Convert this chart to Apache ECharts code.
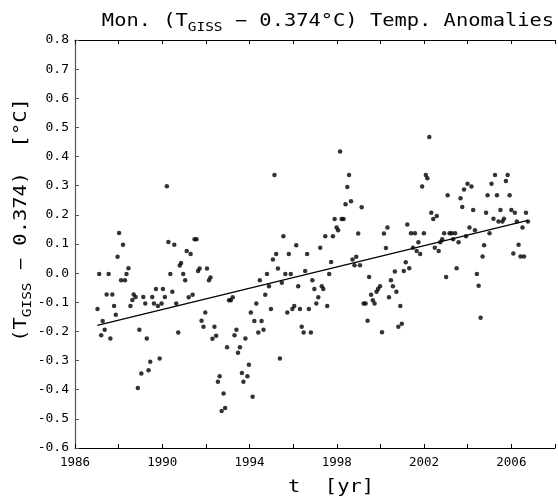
<!DOCTYPE html>
<html>
<head>
<meta charset="utf-8">
<script src="https://cdn.jsdelivr.net/npm/echarts@6/dist/echarts.min.js"></script>
<style>html,body{margin:0;padding:0;background:#fff}#c{width:558px;height:498px}</style>
</head>
<body>
<div id="c"></div>
<script>
const years = [
1987.03,1987.11,1987.20,1987.27,1987.36,1987.45,1987.54,1987.62,1987.71,1987.79,1987.87,1987.95,
1988.02,1988.11,1988.20,1988.29,1988.36,1988.45,1988.54,1988.63,1988.69,1988.78,1988.88,1988.95,
1989.04,1989.13,1989.22,1989.29,1989.37,1989.45,1989.54,1989.62,1989.71,1989.80,1989.88,1989.97,
1990.03,1990.12,1990.21,1990.28,1990.37,
1990.46,1990.55,1990.64,1990.73,1990.80,1990.86,1990.96,
1991.05,1991.12,1991.21,1991.30,1991.39,1991.48,1991.57,1991.64,1991.71,1991.80,1991.89,1991.97,
1992.05,1992.14,1992.21,1992.30,1992.39,1992.47,1992.55,1992.63,1992.72,1992.81,1992.88,1992.97,
1993.06,1993.14,1993.23,1993.31,1993.40,1993.47,1993.56,1993.65,1993.72,1993.81,1993.90,
1993.97,1994.06,1994.14,1994.22,1994.31,1994.40,1994.47,1994.55,1994.64,1994.72,1994.80,1994.89,1994.98,
1995.07,1995.14,1995.22,1995.30,1995.39,1995.48,1995.55,1995.64,1995.73,1995.80,1995.89,1995.96,
1996.05,1996.14,1996.23,1996.31,1996.39,1996.48,1996.55,1996.64,1996.72,1996.81,1996.88,1996.97,
1997.06,1997.15,1997.24,1997.31,1997.38,1997.47,
1997.56,1997.65,1997.74,1997.82,1997.90,1997.99,
1998.06,1998.15,1998.22,1998.31,1998.40,1998.48,1998.56,1998.65,1998.72,1998.81,1998.89,1998.98,
1999.06,1999.14,1999.23,1999.32,1999.41,1999.48,1999.57,1999.65,1999.73,1999.82,1999.89,1999.98,
2000.07,2000.16,2000.25,2000.32,2000.39,2000.48,2000.57,2000.66,2000.73,2000.82,2000.91,2000.98,
2001.07,2001.16,2001.23,2001.32,2001.40,2001.49,2001.58,2001.66,2001.74,2001.82,2001.91,2001.99,
2002.08,2002.15,2002.24,2002.33,2002.42,2002.49,2002.58,2002.67,2002.74,2002.83,2002.92,
2003.01,2003.08,2003.17,2003.26,2003.33,2003.42,2003.49,2003.58,2003.67,2003.75,2003.83,2003.92,2003.99,
2004.08,2004.17,2004.25,2004.33,
2004.42,2004.50,2004.59,2004.68,2004.75,2004.84,2004.91,
2005.00,2005.09,2005.18,2005.25,2005.34,2005.41,2005.50,2005.59,2005.66,2005.75,2005.83,2005.92,
2006.00,2006.09,2006.16,2006.25,2006.33,2006.42,2006.51,2006.58,2006.67,2006.76
];
const anomalies = [
-0.123,-0.003,-0.213,-0.164,-0.194,-0.073,-0.003,-0.224,-0.073,-0.113,-0.143,0.056,
0.138,-0.024,0.097,-0.024,-0.003,0.017,-0.113,-0.092,-0.073,-0.082,-0.394,-0.194,
-0.344,-0.082,-0.104,-0.224,-0.333,-0.304,-0.082,-0.104,-0.054,-0.113,-0.293,-0.104,
-0.054,-0.082,0.298,0.107,-0.003,
-0.064,0.097,-0.104,-0.204,0.026,0.035,-0.003,
-0.024,0.076,-0.083,0.066,-0.074,0.116,0.116,0.007,0.016,-0.163,-0.184,-0.135,
0.016,-0.024,-0.015,-0.225,-0.184,-0.215,-0.373,-0.354,-0.473,-0.413,-0.463,-0.254,
-0.093,-0.093,-0.083,-0.213,-0.194,-0.273,-0.254,-0.343,-0.373,-0.224,-0.354,
-0.314,-0.135,-0.424,-0.164,-0.104,-0.204,-0.024,-0.164,-0.194,-0.074,-0.003,-0.045,-0.123,
0.047,0.337,0.066,0.016,-0.293,-0.033,0.127,-0.003,-0.135,0.066,-0.003,-0.123,
-0.113,0.096,-0.045,-0.123,-0.184,-0.204,0.007,0.066,-0.123,-0.204,-0.024,-0.054,
-0.104,-0.083,0.087,-0.045,-0.054,0.127,
-0.113,-0.003,0.038,0.127,0.186,0.157,
0.147,0.417,0.186,0.186,0.236,0.296,0.337,0.247,0.047,0.027,0.056,0.136,
0.027,0.226,-0.104,-0.104,-0.163,-0.013,-0.074,-0.093,-0.104,-0.064,-0.054,-0.045,
-0.203,0.136,0.086,0.157,-0.083,-0.024,-0.045,0.006,-0.064,-0.184,-0.113,-0.174,
0.007,0.037,0.167,0.017,0.137,0.087,0.137,0.076,0.106,0.066,0.297,0.137,
0.337,0.326,0.467,0.207,0.186,0.087,0.196,0.076,0.106,0.116,0.137,
-0.013,0.267,0.137,0.137,0.116,0.137,0.017,0.106,0.257,0.227,0.287,0.127,0.307,
0.157,0.297,0.217,0.147,
-0.003,-0.043,-0.153,0.057,0.096,0.207,0.267,
0.137,0.307,0.187,0.337,0.267,0.177,0.217,0.177,0.187,0.316,0.337,0.267,
0.217,0.067,0.207,0.177,0.097,0.057,0.157,0.057,0.207,0.177
];
const trendYears = [1987.02, 2006.76];
const trendValues = [-0.179, 0.181];
const xTickLabels = [1986, 1990, 1994, 1998, 2002, 2006];

const FONT = 'DejaVu Sans Mono';
const points = years.map((y, i) => [y, anomalies[i]]);
const trend = trendYears.map((y, i) => [y, trendValues[i]]);

const chart = echarts.init(document.getElementById('c'), null, {renderer: 'canvas'});
const baseX = {
  type: 'value', min: 1986, max: 2008, interval: 2,
  splitLine: {show: false},
  axisLine: {show: true, onZero: false, lineStyle: {color: '#000', width: 1}},
  axisTick: {show: true, inside: true, length: 4, lineStyle: {color: '#000', width: 1}}
};
chart.setOption({
  animation: false,
  backgroundColor: '#fff',
  grid: {left: 75, right: -14, top: 40, bottom: 50, containLabel: false},
  xAxis: [
    Object.assign({}, baseX, {
      position: 'bottom',
      axisLabel: {
        margin: 8, color: '#000', fontFamily: FONT, fontSize: 12.5,
        formatter: v => xTickLabels.indexOf(Math.round(v)) >= 0 ? String(Math.round(v)) : ''
      }
    }),
    Object.assign({}, baseX, {position: 'top', axisLabel: {show: false}})
  ],
  yAxis: {
    type: 'value', min: -0.6, max: 0.8, interval: 0.1,
    splitLine: {show: false},
    axisLine: {show: true, onZero: false, lineStyle: {color: '#555', width: 1.2}},
    axisTick: {show: true, inside: true, length: 4, lineStyle: {color: '#555'}},
    axisLabel: {
      margin: 6, color: '#000', fontFamily: FONT, fontSize: 13,
      formatter: v => { const s = (Math.abs(v) < 1e-9 ? 0 : v).toFixed(1); return s; }
    }
  },
  series: [
    {type: 'scatter', xAxisIndex: 0, data: points, symbol: 'circle', symbolSize: 4.5,
     itemStyle: {color: '#000'}, silent: true},
    {type: 'line', xAxisIndex: 0, data: trend, symbol: 'none',
     lineStyle: {color: '#000', width: 1.3}, silent: true}
  ],
  graphic: [
    {type: 'text', x: 328, y: 22, scaleX: 1.2,
     style: {text: 'Mon. (T{s|GISS} − 0.374°C) Temp. Anomalies', fontFamily: FONT, fontSize: 17,
       lineHeight: 24, fill: '#000', align: 'center', verticalAlign: 'middle',
       rich: {s: {fontFamily: FONT, fontSize: 12, lineHeight: 12, verticalAlign: 'bottom', fill: '#000'}}}},
    {type: 'text', x: 22, y: 220, rotation: Math.PI / 2, scaleX: 1.2,
     style: {text: '(T{s|GISS} − 0.374)  [°C]', fontFamily: FONT, fontSize: 17,
       lineHeight: 24, fill: '#000', align: 'center', verticalAlign: 'middle',
       rich: {s: {fontFamily: FONT, fontSize: 12, lineHeight: 12, verticalAlign: 'bottom', fill: '#000'}}}},
    {type: 'text', x: 331, y: 488, scaleX: 1.2,
     style: {text: 't  [yr]', fontFamily: FONT, fontSize: 17, fill: '#000',
       align: 'center', verticalAlign: 'middle'}}
  ]
});
</script>
</body>
</html>
